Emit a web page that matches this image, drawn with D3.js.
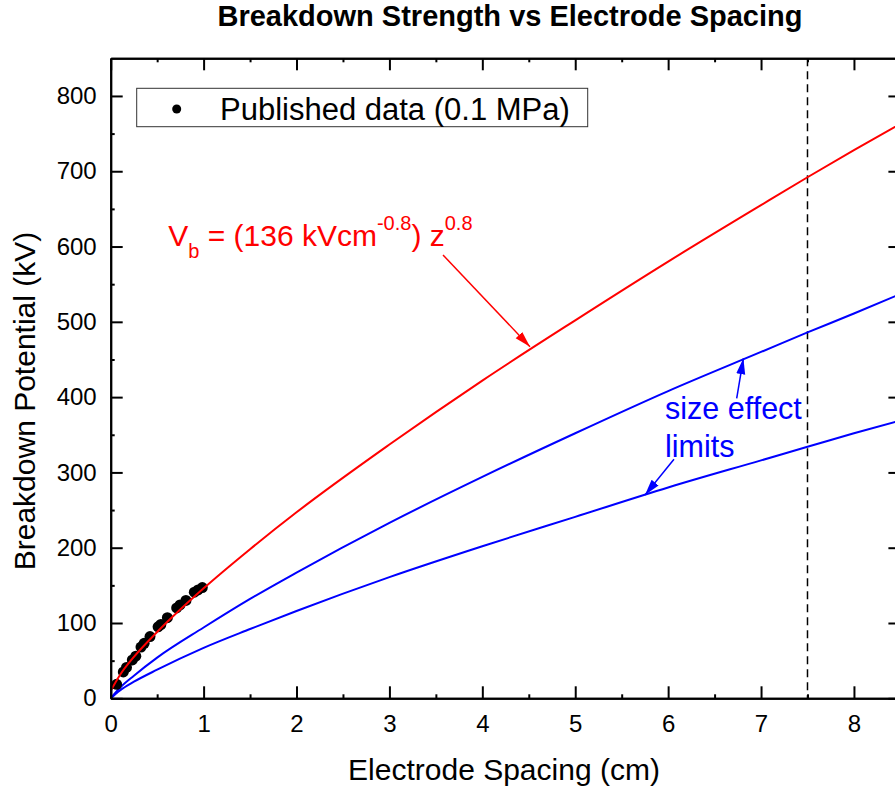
<!DOCTYPE html>
<html>
<head>
<meta charset="utf-8">
<script src="https://cdn.jsdelivr.net/npm/d3@7"></script>
<style>
  body { margin: 0; background: #fff; }
  svg { font-family: "Liberation Sans", Arial, sans-serif; }
</style>
</head>
<body>
<div class="chart"></div>
<script>
// spacing grid (cm) for the drawn curves
var spacing     = [0, 0.1, 0.25, 0.5, 1, 1.5, 2, 3, 4, 5, 6, 7, 7.5, 8, 8.5];
var fitCurve    = [10, 31, 55, 88, 146, 198, 247, 337, 422, 502, 580, 655, 692, 728, 763];
var upperLimit  = [0, 14, 30, 54, 94, 132, 167, 233, 294, 352, 408, 460, 486, 511, 537];
var lowerLimit  = [0, 10.5, 22, 38, 67, 92, 116, 161, 202, 241, 280, 316, 334, 352, 369];

// published data (0.1 MPa)
var pubSpacing = [0.064, 0.136, 0.17, 0.233, 0.27, 0.326, 0.36, 0.423, 0.51, 0.54, 0.61, 0.71, 0.746, 0.81, 0.90, 0.94, 0.986];
var pubVoltage = [18.6, 35, 41, 51, 56, 68, 73, 82, 95, 98, 107, 120, 124, 130, 141, 144, 147];

var xTicks = [0, 1, 2, 3, 4, 5, 6, 7, 8];
var yTicks = [0, 100, 200, 300, 400, 500, 600, 700, 800];
var markerSpacing = 7.5;

var margin = {top: 58.3, left: 110.7},
    width = 789.7,
    height = 640;

(function(){

  var svg = d3.select(".chart")
    .append("svg")
    .attr("width", 895)
    .attr("height", 790);

  var g = svg.append("g")
    .attr("transform", "translate(" + margin.left + "," + margin.top + ")");

  var x = d3.scaleLinear().domain([0, 8.5]).range([0, width]);
  var y = d3.scaleLinear().domain([0, 850]).range([height, 0]);

  g.append("clipPath").attr("id", "clip")
    .append("rect").attr("width", width).attr("height", height);

  var plot = g.append("g").attr("clip-path", "url(#clip)");

  // dashed marker line
  plot.append("line")
    .attr("x1", x(markerSpacing)).attr("x2", x(markerSpacing))
    .attr("y1", 0).attr("y2", height)
    .attr("stroke", "black")
    .attr("stroke-width", 1.5)
    .attr("stroke-dasharray", "8,5");

  var line = function(vals){
    return d3.line()
      .x(function(d, i){ return x(spacing[i]) })
      .y(function(d){ return y(d) })
      .curve(d3.curveMonotoneX)(vals)
  }

  plot.append("path").attr("d", line(lowerLimit))
    .attr("fill", "none").attr("stroke", "#0000ff").attr("stroke-width", 2);
  plot.append("path").attr("d", line(upperLimit))
    .attr("fill", "none").attr("stroke", "#0000ff").attr("stroke-width", 2);

  plot.selectAll(".pub")
    .data(pubSpacing)
    .enter().append("circle")
    .attr("class", "pub")
    .attr("cx", function(d){ return x(d) })
    .attr("cy", function(d, i){ return y(pubVoltage[i]) })
    .attr("r", 5.5)
    .attr("fill", "black");

  plot.append("path").attr("d", line(fitCurve))
    .attr("fill", "none").attr("stroke", "#ff0000").attr("stroke-width", 2);

  // axes
  var axes = [
    {a: d3.axisBottom(x).tickValues(xTicks).tickSize(-12).tickPadding(17), t: "translate(0," + height + ")"},
    {a: d3.axisTop(x).tickValues(xTicks).tickSize(-12).tickFormat(""), t: "translate(0,0)"},
    {a: d3.axisLeft(y).tickValues(yTicks).tickSize(-12).tickPadding(14), t: "translate(0,0)"},
    {a: d3.axisRight(y).tickValues(yTicks).tickSize(-12).tickFormat(""), t: "translate(" + width + ",0)"},
    {a: d3.axisBottom(x).tickValues(d3.range(0.5, 8.5, 1)).tickSize(-4).tickFormat(""), t: "translate(0," + height + ")"},
    {a: d3.axisTop(x).tickValues(d3.range(0.5, 8.5, 1)).tickSize(-4).tickFormat(""), t: "translate(0,0)"},
    {a: d3.axisLeft(y).tickValues(d3.range(50, 850, 100)).tickSize(-4).tickFormat(""), t: "translate(0,0)"},
    {a: d3.axisRight(y).tickValues(d3.range(50, 850, 100)).tickSize(-4).tickFormat(""), t: "translate(" + width + ",0)"}
  ];
  axes.forEach(function(ax){
    var s = g.append("g").attr("transform", ax.t).call(ax.a.tickSizeOuter(0));
    s.select(".domain").attr("stroke", "black").attr("stroke-width", 2);
    s.selectAll(".tick line").attr("stroke", "black").attr("stroke-width", 2);
    s.selectAll(".tick text").attr("font-size", 24).attr("fill", "black")
      .attr("font-family", "Liberation Sans, Arial, sans-serif");
  });

  // arrows
  var defs = svg.append("defs");
  [["redHead", "#ff0000"], ["blueHead", "#0000ff"]].forEach(function(m){
    defs.append("marker")
      .attr("id", m[0])
      .attr("markerUnits", "userSpaceOnUse")
      .attr("viewBox", "0 -5 16 10")
      .attr("refX", 16).attr("refY", 0)
      .attr("markerWidth", 16).attr("markerHeight", 10)
      .attr("orient", "auto")
      .append("path").attr("d", "M0,-4.5L16,0L0,4.5Z").attr("fill", m[1]);
  });

  var arrow = function(x1, y1, x2, y2, col, head){
    g.append("line")
      .attr("x1", x(x1)).attr("y1", y(y1))
      .attr("x2", x(x2)).attr("y2", y(y2))
      .attr("stroke", col).attr("stroke-width", 1.5)
      .attr("marker-end", "url(#" + head + ")");
  }
  arrow(3.577, 588.8, 4.513, 467, "#ff0000", "redHead");
  arrow(6.738, 398.4, 6.810, 451.6, "#0000ff", "blueHead");
  arrow(6.063, 317.4, 5.751, 270, "#0000ff", "blueHead");

  // equation label
  var eq = g.append("text")
    .attr("x", x(0.6193)).attr("y", y(600.7))
    .attr("fill", "#ff0000").attr("font-size", 30);
  eq.append("tspan").text("V");
  eq.append("tspan").attr("font-size", 20).attr("dy", 12).text("b");
  eq.append("tspan").attr("dy", -12).text(" = (136 kVcm");
  eq.append("tspan").attr("font-size", 20).attr("dy", -16).text("-0.8");
  eq.append("tspan").attr("dy", 16).text(") z");
  eq.append("tspan").attr("font-size", 20).attr("dy", -16).text("0.8");

  g.append("text")
    .attr("x", x(5.967)).attr("y", y(370.5))
    .attr("fill", "#0000ff").attr("font-size", 30.5)
    .text("size effect");
  g.append("text")
    .attr("x", x(5.967)).attr("y", y(320.9))
    .attr("fill", "#0000ff").attr("font-size", 30.5)
    .text("limits");

  // legend
  var legend = svg.append("g");
  legend.append("rect")
    .attr("x", 136.7).attr("y", 88.3)
    .attr("width", 451).attr("height", 38.4)
    .attr("fill", "white").attr("stroke", "#333").attr("stroke-width", 1);
  legend.append("circle")
    .attr("cx", 176.7).attr("cy", 109).attr("r", 4.5).attr("fill", "black");
  legend.append("text")
    .attr("x", 220).attr("y", 119.5)
    .attr("font-size", 31)
    .text("Published data (0.1 MPa)");

  // titles
  svg.append("text")
    .attr("x", 510).attr("y", 26)
    .attr("text-anchor", "middle")
    .attr("font-size", 29).attr("font-weight", "bold")
    .text("Breakdown Strength vs Electrode Spacing");

  svg.append("text")
    .attr("x", 504).attr("y", 780)
    .attr("text-anchor", "middle")
    .attr("font-size", 30)
    .text("Electrode Spacing (cm)");

  svg.append("text")
    .attr("transform", "translate(35," + 401 + ") rotate(-90)")
    .attr("text-anchor", "middle")
    .attr("font-size", 30)
    .text("Breakdown Potential (kV)");

})();
</script>
</body>
</html>
